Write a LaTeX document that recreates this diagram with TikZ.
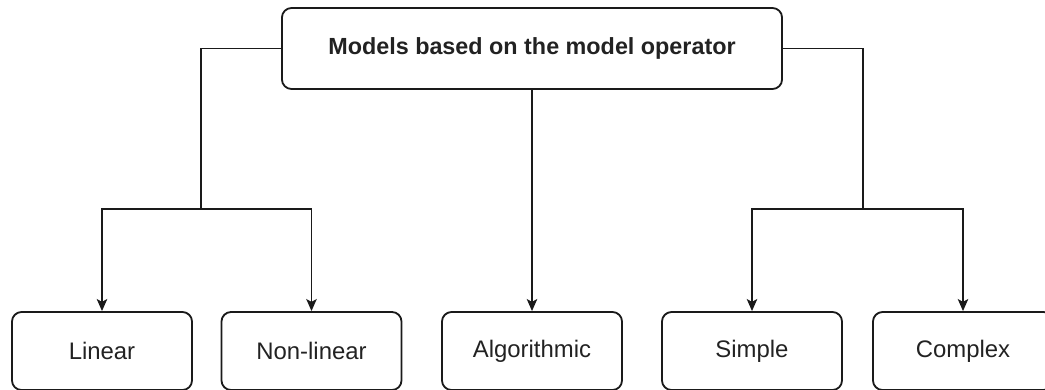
\documentclass[tikz,border=0pt]{standalone}
\usepackage{fontspec}
\usepackage{xcolor}
\usepackage{tikz}
\usetikzlibrary{arrows.meta}
\setmainfont{Liberation Sans}
\definecolor{linecolor}{HTML}{1a1a1a}
\definecolor{textcolor}{HTML}{222222}

\begin{document}
\begin{tikzpicture}[x=0.025cm, y=-0.025cm,
  box/.style={draw=linecolor, line width=1.3pt, rectangle, rounded corners=0.24cm, inner sep=0pt, text=textcolor, font=\fontsize{17pt}{20pt}\selectfont},
  topbox/.style={box, minimum width=12.5cm, minimum height=2.025cm, font=\bfseries\fontsize{16.6pt}{20pt}\selectfont},
  leafbox/.style={box, minimum width=4.5cm, minimum height=1.95cm},
  link/.style={draw=linecolor, line width=1.3pt},
  arrow/.style={link, -{Stealth[length=0.3cm, width=0.26cm, inset=0.07cm]}}]%
\useasboundingbox (0,0) rectangle (1045,389);%
\node[topbox] (top) at (532, 48.5) {Models based on the model operator};%
\node[leafbox] (linear) at (102, 351) {Linear};%
\node[leafbox] (nonlinear) at (311.5, 351) {Non-linear};%
\node[leafbox] (algo) at (532, 351) {Algorithmic};%
\node[leafbox] (simple) at (752, 351) {Simple};%
\node[leafbox] (complex) at (963, 351) {Complex};%
\coordinate (lsplit) at (201, 209);%
\coordinate (rsplit) at (863, 209);%
% left branch
\draw[link] (top.west) -| (lsplit);%
\draw[arrow] (lsplit) -| (linear.north);%
\draw[arrow] (lsplit) -| (nonlinear.north);%
% middle branch
\draw[arrow] (top.south) -- (algo.north);%
% right branch
\draw[link] (top.east) -| (rsplit);%
\draw[arrow] (rsplit) -| (simple.north);%
\draw[arrow] (rsplit) -| (complex.north);%
\end{tikzpicture}
\end{document}
